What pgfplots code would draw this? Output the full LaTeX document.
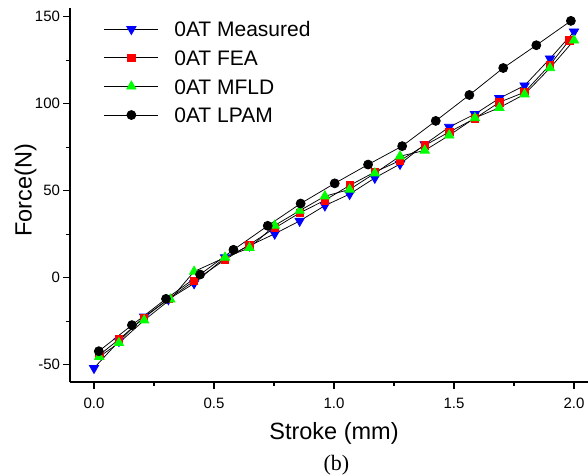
\documentclass[border=0pt]{standalone}
\usepackage{pgfplots}
\pgfplotsset{compat=1.18}
\usepackage{fontspec}
\setmainfont{Liberation Sans}
\newfontfamily\seriffont{Liberation Serif}
\begin{document}
\begin{tikzpicture}
\useasboundingbox (0,0) rectangle (588pt,475pt);
\clip (0,0) rectangle (588pt,475pt);
\begin{axis}[
  at={(70pt,93pt)}, anchor=south west,
  scale only axis, width=528pt, height=374pt,
  xmin=-0.1, xmax=2.1, ymin=-60, ymax=155,
  axis lines=left,
  axis line style={-, line width=1.3pt, black},
  x axis line style={-}, y axis line style={-},
  tick align=outside,
  major tick length=6.5pt, minor tick length=3.5pt,
  every tick/.style={black, line width=1.2pt},
  xtick={0,0.5,1,1.5,2}, minor x tick num=1,
  ytick={-50,0,50,100,150}, minor y tick num=1,
  /pgf/number format/assume math mode=true,
  xticklabel style={yshift=-6pt, /pgf/number format/.cd, fixed, fixed zerofill, precision=1},
  ticklabel style={font=\fontsize{15}{18}\selectfont},
  xlabel={Stroke (mm)}, ylabel={Force(N)},
  label style={font=\fontsize{23.5}{28}\selectfont},
  xlabel style={at={(axis description cs:0.5,-0.1532)}, anchor=base},
  ylabel style={at={(axis description cs:-0.0725,0.513)}, anchor=base},
  clip=false,
  legend style={at={(axis description cs:0.0644,0.964)}, anchor=north west,
    draw=none, fill=none, inner sep=0pt, outer sep=0pt,
    row sep=13.1pt, column sep=15.6pt,
    nodes={inner sep=0pt, text height=15.5pt, text depth=0pt},
    font=\fontsize{21}{25}\selectfont},
  legend cell align=left,
  legend image code/.code={\draw[mark repeat=2,mark phase=2,#1] plot coordinates {(0pt,0pt)(27pt,0pt)(54pt,0pt)};},
]
\addplot[black, line width=0.75pt, mark=triangle*, mark size=5.4pt,
  mark options={blue, fill=blue, rotate=180, solid}] coordinates {
(0.0,-52)(0.104,-36.5)(0.209,-22.5)(0.31,-12.5)(0.417,-3.3)(0.546,11.6)
(0.648,18.4)(0.753,25.2)(0.857,32.6)(0.962,41.4)(1.065,48)(1.17,57.3)
(1.275,65.3)(1.378,76.6)(1.48,86.6)(1.587,94)(1.689,103.1)(1.794,110.4)
(1.9,125.9)(2.0,141.4)};
\addlegendentry{0AT Measured}
\addplot[black, line width=0.75pt, mark=square*, mark size=3.7pt,
  mark options={red, fill=red, solid}] coordinates {
(0.022,-44.5)(0.104,-35.5)(0.209,-23)(0.31,-12.2)(0.417,-1.9)(0.546,10.3)
(0.648,19)(0.753,28.5)(0.857,37.2)(0.962,44.5)(1.065,53)(1.17,60.7)
(1.275,67.3)(1.378,76)(1.48,83.7)(1.587,91.5)(1.689,100.8)(1.794,106.6)
(1.9,122.4)(1.98,136.4)};
\addlegendentry{0AT FEA}
\addplot[black, line width=0.75pt, mark=triangle*, mark size=5.4pt,
  mark options={green, fill=green, solid}] coordinates {
(0.022,-45.5)(0.104,-37.5)(0.209,-24.5)(0.318,-12.5)(0.417,3.5)(0.546,11.6)
(0.648,17.1)(0.753,30)(0.857,38.5)(0.962,46.8)(1.065,50.7)(1.17,60)
(1.275,69.8)(1.378,73.1)(1.48,81.8)(1.587,91.8)(1.689,97.7)(1.794,105.4)
(1.9,120.5)(2.0,136.4)};
\addlegendentry{0AT MFLD}
\addplot[black, line width=0.75pt, mark=*, mark size=4.5pt,
  mark options={black, fill=black, solid}] coordinates {
(0.02,-42.3)(0.158,-27.3)(0.30,-12.2)(0.442,1.8)(0.581,16)(0.724,29.8)
(0.861,42.6)(1.003,54.2)(1.142,65)(1.284,75.6)(1.424,90.1)(1.564,105)
(1.705,120.5)(1.843,133.6)(1.987,147.6)};
\addlegendentry{0AT LPAM}
\node[font=\seriffont\fontsize{22}{26}\selectfont, anchor=base] at (axis description cs:0.5047,-0.2353) {(b)};
\end{axis}
\end{tikzpicture}
\end{document}
